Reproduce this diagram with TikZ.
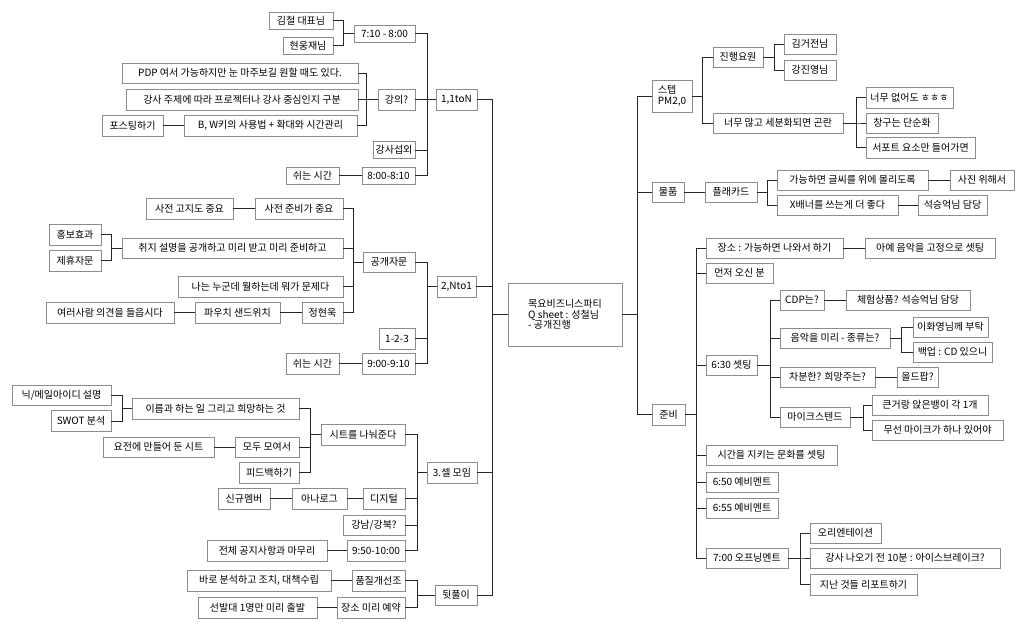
\documentclass[tikz,border=0pt]{standalone}
\usepackage{fontspec}
\setmainfont{Noto Sans CJK KR}
\newcommand\myfs{\fontsize{10}{11}\selectfont}
\tikzset{
  box/.style={draw=black!45, line width=0.9pt, fill=white, inner xsep=1pt, inner ysep=2pt, outer sep=0pt,
    minimum height=20, font=\myfs},
  conn/.style={draw=black!85, line width=0.9pt},
}
\begin{document}
\begin{tikzpicture}[x=1pt,y=-1pt]
\useasboundingbox[fill=white] (0,0) rectangle (1024,628);
% ---------- center ----------
\node[box,minimum width=114,minimum height=63,align=left,font=\fontsize{10}{10.5}\selectfont] (c) at (565,314.5) {목요비즈니스파티\\Q sheet : 성철님\\- 공개진행};
% ---------- left: 1,1toN ----------
\node[box,minimum width=64,minimum height=17] (k1) at (301,20.5) {김철 대표님};
\node[box,minimum width=50,minimum height=17] (k2) at (308,45.5) {현웅재님};
\node[box,minimum width=61,minimum height=17] (t710) at (384.5,33.5) {7:10 - 8:00};
\node[box,minimum width=236] (pdp) at (240,73) {PDP 여서 가능하지만 눈 마주보길 원할 때도 있다.};
\node[box,minimum width=232,minimum height=21] (gs) at (242,99.5) {강사 주제에 따라 프로젝터나 강사 중심인지 구분};
\node[box,minimum width=61,minimum height=21] (post) at (132.5,125.5) {포스팅하기};
\node[box,minimum width=173,minimum height=21] (bw) at (270.5,125.5) {B, W키의 사용법 + 확대와 시간관리};
\node[box,minimum width=37,minimum height=21] (gu) at (396.5,99.5) {강의?};
\node[box,minimum width=41,minimum height=21] (n1) at (456.5,99.5) {1,1toN};
\node[box,minimum width=42,minimum height=17] (sw) at (394,150) {강사섭외};
\node[box,minimum width=53,minimum height=17] (r1) at (312.5,175.5) {쉬는 시간};
\node[box,minimum width=53,minimum height=17] (t800) at (388.5,175.5) {8:00-8:10};
% ---------- left: 2,Nto1 ----------
\node[box,minimum width=88,minimum height=21] (sj2) at (299,208.5) {사전 준비가 중요};
\node[box,minimum width=87,minimum height=21] (sj1) at (189.5,208.5) {사전 고지도 중요};
\node[box,minimum width=221] (chwi) at (232.5,248) {취지 설명을 공개하고 미리 받고 미리 준비하고};
\node[box,minimum width=52,minimum height=21] (hong) at (75,234.5) {홍보효과};
\node[box,minimum width=52,minimum height=21] (jh) at (75,260.5) {제휴자문};
\node[box,minimum width=165,minimum height=21] (na) at (260.5,286.5) {나는 누군데 뭘하는데 뭐가 문제다};
\node[box,minimum width=128,minimum height=21] (yr) at (110,312.5) {여러사람 의견을 들읍시다};
\node[box,minimum width=85,minimum height=21] (pa) at (237.5,312.5) {파우치 샌드위치};
\node[box,minimum width=41,minimum height=21] (ju) at (322.5,312.5) {정현욱};
\node[box,minimum width=52] (gg) at (389,262) {공개자문};
\node[box,minimum width=39,minimum height=21] (n2) at (456.5,286.5) {2,Nto1};
\node[box,minimum width=36,minimum height=21] (o123) at (397,338.5) {1-2-3};
\node[box,minimum width=53,minimum height=21] (r2) at (312.5,363.5) {쉬는 시간};
\node[box,minimum width=53,minimum height=21] (t900) at (388.5,363.5) {9:00-9:10};
% ---------- left: 3 ----------
\node[box,minimum width=99] (nick) at (61.5,395) {닉/메일아이디 설명};
\node[box,minimum width=60,minimum height=21] (swot) at (81,421) {SWOT 분석};
\node[box,minimum width=167,minimum height=21] (ir) at (215.5,408.5) {이름과 하는 일 그리고 희망하는 것};
\node[box,minimum width=111] (yj) at (158.5,447) {요전에 만들어 둔 시트};
\node[box,minimum width=64] (md) at (267,447) {모두 모여서};
\node[box,minimum width=60,minimum height=21] (fb) at (269,472.5) {피드백하기};
\node[box,minimum width=84,minimum height=21] (st) at (363,434.5) {시트를 나눠준다};
\node[box,minimum width=50,minimum height=21] (n3) at (452,472.5) {3.셀 모임};
\node[box,minimum width=52,minimum height=21] (sk) at (244,498.5) {신규멤버};
\node[box,minimum width=55,minimum height=21] (an) at (319.5,498.5) {아나로그};
\node[box,minimum width=42,minimum height=21] (dg) at (384,498.5) {디지털};
\node[box,minimum width=62] (gn) at (374,525) {강남/강북?};
\node[box,minimum width=120,minimum height=21] (jc) at (267,550.5) {전체 공지사항과 마무리};
\node[box,minimum width=58,minimum height=21] (t950) at (376,550.5) {9:50-10:00};
\node[box,minimum width=53,minimum height=21] (pj) at (378.5,580.5) {품질개선조};
\node[box,minimum width=144,minimum height=21] (br) at (259,580.5) {바로 분석하고 조치, 대책수립};
\node[box,minimum width=68,minimum height=21] (js) at (371,607.5) {장소 미리 예약};
\node[box,minimum width=119,minimum height=21] (sb) at (257.5,607.5) {선발대 1명만 미리 출발};
\node[box,minimum width=42] (dw) at (456,595) {뒷풀이};
% ---------- right ----------
\node[box,minimum width=40,minimum height=32,align=left,font=\fontsize{10}{10.5}\selectfont] (step) at (672,96) {스텝\\PM2,0};
\node[box,minimum width=50] (jr) at (738,57) {진행요원};
\node[box,minimum width=52] (kim) at (810,44) {김거전님};
\node[box,minimum width=52] (kang) at (810,70) {강진영님};
\node[box,minimum width=130] (nm) at (778,123) {너무 많고 세분화되면 곤란};
\node[box,minimum width=87,minimum height=21] (eo) at (909.5,97.5) {너무 없어도 ㅎㅎㅎ};
\node[box,minimum width=72] (cg) at (902,123) {창구는 단순화};
\node[box,minimum width=109,minimum height=21] (sp) at (920.5,147.5) {서포트 요소만 들어가면};
\node[box,minimum width=32] (mp) at (668,192) {물품};
\node[box,minimum width=52] (pc) at (731,192) {플래카드};
\node[box,minimum width=151] (gh) at (852.5,180) {가능하면 글씨를 위에 몰리도록};
\node[box,minimum width=64] (sa) at (982,180) {사진 위해서};
\node[box,minimum width=121] (xb) at (837.5,205) {X배너를 쓰는게 더 좋다};
\node[box,minimum width=69] (so) at (952.5,205) {석승억님 담당};
\node[box,minimum width=33,minimum height=21] (jb) at (668.5,414.5) {준비};
\node[box,minimum width=137] (jg) at (774.5,248) {장소 : 가능하면 나와서 하기};
\node[box,minimum width=130] (ay) at (930,248) {아예 음악을 고정으로 셋팅};
\node[box,minimum width=67] (mj) at (739.5,273) {먼저 오신 분};
\node[box,minimum width=44] (cdp) at (802,300) {CDP는?};
\node[box,minimum width=124] (ch) at (908,300) {체험상품? 석승억님 담당};
\node[box,minimum width=110] (em) at (835,338) {음악을 미리 - 종류는?};
\node[box,minimum width=75] (ih) at (950.5,327) {이화영님께 부탁};
\node[box,minimum width=79] (bu) at (952.5,352) {백업 : CD 있으니};
\node[box,minimum width=51] (s630) at (731.5,365) {6:30 셋팅};
\node[box,minimum width=95] (cb) at (827.5,377) {차분한? 희망주는?};
\node[box,minimum width=41] (op) at (917.5,377) {올드팝?};
\node[box,minimum width=70] (mic) at (815,417) {마이크스텐드};
\node[box,minimum width=116] (kg) at (930,405) {큰거랑 앉은뱅이 각 1개};
\node[box,minimum width=131] (ms) at (937.5,430) {무선 마이크가 하나 있어야};
\node[box,minimum width=131] (sg) at (771.5,455) {시간을 지키는 문화를 셋팅};
\node[box,minimum width=72] (s650) at (742,482) {6:50 예비멘트};
\node[box,minimum width=72] (s655) at (742,508) {6:55 예비멘트};
\node[box,minimum width=82] (s700) at (747,558) {7:00 오프닝멘트};
\node[box,minimum width=71] (or) at (845.5,533) {오리엔테이션};
\node[box,minimum width=190] (ice) at (905,558) {강사 나오기 전 10분 : 아이스브레이크?};
\node[box,minimum width=107,minimum height=21] (rp) at (863.5,584.5) {지난 것들 리포트하기};
% ---------- connectors: left ----------
\foreach \ch in {n1,n2,n3,dw} \draw[conn] (c.west) -- ++(-16,0) |- (\ch.east);
\foreach \ch in {t710,gu,sw,t800} \draw[conn] (n1.west) -- ++(-9,0) |- (\ch.east);
\foreach \ch in {k1,k2} \draw[conn] (t710.west) -- ++(-11,0) |- (\ch.east);
\foreach \ch in {pdp,gs,bw} \draw[conn] (gu.west) -- ++(-12,0) |- (\ch.east);
\draw[conn] (bw.west) -- (post.east);
\draw[conn] (t800.west) -- (r1.east);
\foreach \ch in {gg,o123,t900} \draw[conn] (n2.west) -- ++(-10,0) |- (\ch.east);
\foreach \ch in {sj2,chwi,na,ju} \draw[conn] (gg.west) -- ++(-10,0) |- (\ch.east);
\draw[conn] (sj2.west) -- (sj1.east);
\foreach \ch in {hong,jh} \draw[conn] (chwi.west) -- ++(-11,0) |- (\ch.east);
\draw[conn] (ju.west) -- (pa.east);
\draw[conn] (pa.west) -- (yr.east);
\draw[conn] (t900.west) -- (r2.east);
\foreach \ch in {st,dg,gn,t950} \draw[conn] (n3.west) -- ++(-10,0) |- (\ch.east);
\foreach \ch in {ir,md,fb} \draw[conn] (st.west) -- ++(-11,0) |- (\ch.east);
\foreach \ch in {nick,swot} \draw[conn] (ir.west) -- ++(-10,0) |- (\ch.east);
\draw[conn] (md.west) -- (yj.east);
\draw[conn] (dg.west) -- (an.east);
\draw[conn] (an.west) -- (sk.east);
\draw[conn] (t950.west) -- (jc.east);
\foreach \ch in {pj,js} \draw[conn] (dw.west) -- ++(-18,0) |- (\ch.east);
\draw[conn] (pj.west) -- (br.east);
\draw[conn] (js.west) -- (sb.east);
% ---------- connectors: right ----------
\foreach \ch in {step,mp,jb} \draw[conn] (c.east) -- ++(15,0) |- (\ch.west);
\foreach \ch in {jr,nm} \draw[conn] (step.east) -- ++(10,0) |- (\ch.west);
\foreach \ch in {kim,kang} \draw[conn] (jr.east) -- ++(11,0) |- (\ch.west);
\foreach \ch in {eo,cg,sp} \draw[conn] (nm.east) -- ++(13,0) |- (\ch.west);
\draw[conn] (mp.east) -- (pc.west);
\foreach \ch in {gh,xb} \draw[conn] (pc.east) -- ++(10,0) |- (\ch.west);
\draw[conn] (gh.east) -- (sa.west);
\draw[conn] (xb.east) -- (so.west);
\foreach \ch in {jg,mj,s630,sg,s650,s655,s700} \draw[conn] (jb.east) -- ++(11,0) |- (\ch.west);
\draw[conn] (jg.east) -- (ay.west);
\foreach \ch in {cdp,em,cb,mic} \draw[conn] (s630.east) -- ++(13,0) |- (\ch.west);
\draw[conn] (cdp.east) -- (ch.west);
\foreach \ch in {ih,bu} \draw[conn] (em.east) -- ++(11,0) |- (\ch.west);
\draw[conn] (cb.east) -- (op.west);
\foreach \ch in {kg,ms} \draw[conn] (mic.east) -- ++(13,0) |- (\ch.west);
\foreach \ch in {or,ice,rp} \draw[conn] (s700.east) -- ++(12,0) |- (\ch.west);
\end{tikzpicture}
\end{document}
